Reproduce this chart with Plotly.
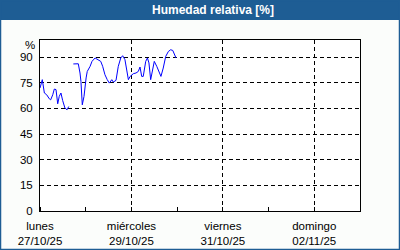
import plotly.graph_objects as go
from datetime import datetime, timedelta

title = "Humedad relativa [%]"
start = datetime(2025, 10, 27)
# hours since 27/10/25 00:00 and relative humidity (%); None = gap
hours = [0, 1.2, 2.3, 3.5, 4.9, 5.6, 6.7, 7.5, 8.4, 9.3, 10.1, 11, 11.9, 13.1, 14.2, 15.1,
         16.3,
         17.5, 20.1, 21, 21.5, 22.2, 23.1, 24.2, 24.8, 26.3, 27.3, 28.9, 29.8, 30.6, 31.9,
         32.9, 34.1, 35.3, 36.4, 37.7, 38.5, 39.9, 41.1, 42.4, 43.4, 44.6, 45.5, 46.4,
         47.3, 48.2, 49, 50.4, 51.6, 52.5, 53.4, 54.2, 55.5, 56.4, 57.2, 58.1, 59.2, 60,
         61.3, 62.7, 63.5, 64.7, 66, 67.4, 68.6, 69.7, 70.5, 71.4]
humidity = [71.9, 76.8, 69, 68, 65.6, 65, 68, 71.3, 71, 62.7, 67, 69, 64.6, 60.2, 59.2, 61.1,
            None,
            86, 86.1, 80.7, 75.8, 62.1, 67, 77.8, 81.6, 84.6, 87.5, 89.5, 88.9, 87.9, 87.5,
            84.6, 79.7, 76.8, 74.8, 76.8, 75.4, 76.4, 84.6, 89.5, 90.8, 88.5, 83.6, 76.8,
            78.7, 79.7, 80.3, 80.7, 81.6, 84.2, 78.7, 78.7, 87.5, 89.5, 86.6, 76.8, 82.6, 87.5,
            84.6, 80.7, 78.7, 83.6, 90.4, 93.3, 94.3, 93.9, 91.4, 89.5]
tick_days = ["2025-10-27", "2025-10-29", "2025-10-31", "2025-11-02"]
tick_text = ["lunes<br>27/10/25", "miércoles<br>29/10/25", "viernes<br>31/10/25", "domingo<br>02/11/25"]
y_ticks = [0, 15, 30, 45, 60, 75, 90]

times = [start + timedelta(hours=h) for h in hours]

W, H = 400, 250
L, R, T, B = 40, 40, 40, 39
pw, ph = W - L - R, H - T - B

def px(x):
    return (x - L) / pw

def py(y):
    return (H - B - y) / ph

fig = go.Figure(go.Scatter(x=times, y=humidity, mode="lines",
                           line=dict(color="#0000ff", width=1), connectgaps=False,
                           hoverinfo="skip"))

font = "Liberation Sans, Arial, sans-serif"
fig.update_layout(
    width=W, height=H, margin=dict(l=L, r=R, t=T, b=B, autoexpand=False),
    paper_bgcolor="#fbfdfb", plot_bgcolor="#ffffff",
    showlegend=False,
    font=dict(family=font, size=11.5, color="#000000"),
    xaxis=dict(range=["2025-10-27", "2025-11-03"], tickvals=tick_days, ticktext=tick_text,
               showgrid=True, gridcolor="#000000", griddash="4px,3px", gridwidth=1,
               showline=True, linecolor="#000000", linewidth=1, mirror=True,
               ticks="", zeroline=False, tickangle=0, ticklabelstandoff=4, automargin=False,
               minor=dict(ticks="inside", dtick=86400000, ticklen=4, tickcolor="#000000",
                          tickwidth=1, showgrid=False)),
    yaxis=dict(range=[0, 100], tickvals=y_ticks, showgrid=True, gridcolor="#000000",
               griddash="4px,3px", gridwidth=1, showline=True, linecolor="#000000",
               linewidth=1, mirror=True, ticks="", zeroline=False, ticklabelstandoff=4,
               automargin=False),
    shapes=[
        dict(type="rect", xref="paper", yref="paper", x0=px(0), x1=px(W), y0=py(20), y1=py(0),
             fillcolor="#1e5d94", line=dict(width=0), layer="below"),
        dict(type="rect", xref="paper", yref="paper", x0=px(0.5), x1=px(W - 0.5),
             y0=py(H - 0.5), y1=py(0.5), line=dict(color="#1e5d94", width=1.5),
             fillcolor="rgba(0,0,0,0)"),
    ],
    annotations=[
        dict(text="<b>" + title + "</b>", xref="paper", yref="paper", x=px(213), y=py(10.5),
             showarrow=False, font=dict(family=font, size=12, color="#ffffff"),
             xanchor="center", yanchor="middle"),
        dict(text="%", xref="paper", yref="paper", x=px(36.5), y=py(45),
             showarrow=False, xanchor="right", yanchor="middle",
             font=dict(family=font, size=11.5, color="#000000")),
    ],
)

fig.write_html("out.html")
